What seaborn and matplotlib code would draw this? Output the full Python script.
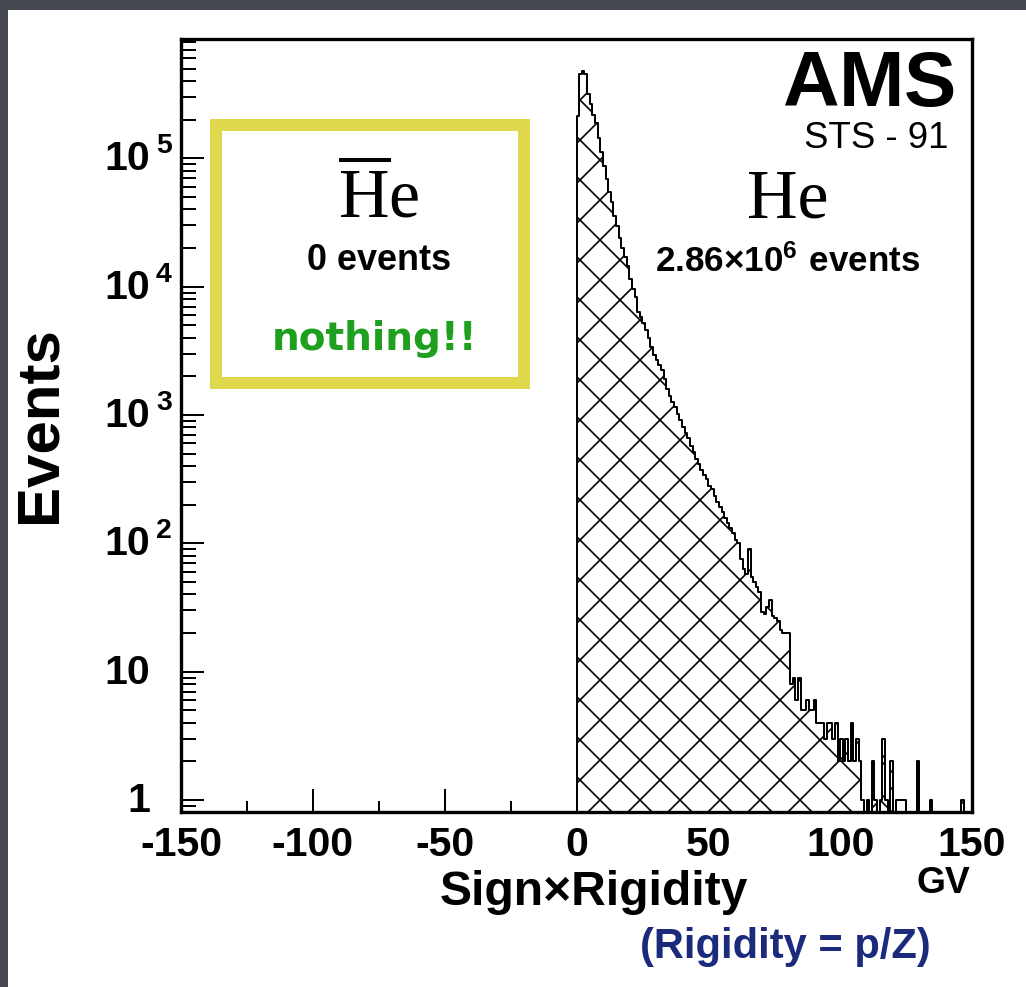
import numpy as np
import pandas as pd
import matplotlib
matplotlib.use("Agg")
import matplotlib.pyplot as plt
import seaborn as sns
from matplotlib import transforms
from matplotlib.patches import Rectangle
from matplotlib.ticker import MultipleLocator, LogLocator, NullFormatter

# ---------------- data ----------------
bin_edges = list(range(0, 148))          # 1 GV bins, 0 .. 147 GV
he_counts = [
    214000, 457000, 479000, 457000, 316000, 263000, 219000, 190000, 145000, 112000,
    87000, 69000, 55000, 45700, 35500, 29500, 24000, 20000, 17000, 14500,
    11500, 9550, 8300, 6300, 5750, 5250, 4570, 3980, 3390, 2950,
    2690, 2450, 2240, 1900, 1580, 1410, 1260, 1150, 1020, 912,
    813, 724, 661, 575, 513, 457, 417, 372, 339, 316,
    282, 263, 234, 209, 191, 174, 158, 145, 132, 120,
    107, 100, 76, 63, 58, 91, 55, 50, 46, 42,
    29, 28, 32, 36, 27, 26, 25, 21, 20, 20,
    20, 8, 9, 6, 9, 5, 5, 6, 5, 5,
    6, 4, 4, 4, 3, 4, 4, 3, 4, 2,
    3, 2, 3, 2, 4, 2, 3, 2, 1, 0,
    1, 0, 2, 1, 0, 1, 3, 1, 0, 2,
    0, 1, 1, 1, 1, 0, 0, 0, 0, 2,
    0, 0, 0, 0, 1, 0, 0, 0, 0, 0,
    0, 0, 0, 0, 0, 0, 1,
]
x_ticks = [-150, -100, -50, 0, 50, 100, 150]
y_tick_values = [1, 10, 100, 1000, 10000, 100000]
y_tick_main = ["1", "10", "10", "10", "10", "10"]
y_tick_sup = ["", "", "2", "3", "4", "5"]

# ---------------- style ----------------
sns.set_theme(style="white")
plt.rcParams["font.family"] = ["Liberation Sans", "DejaVu Sans"]
plt.rcParams["mathtext.fontset"] = "custom"
plt.rcParams["mathtext.rm"] = "Liberation Sans:bold"
plt.rcParams["mathtext.sf"] = "Liberation Serif"
plt.rcParams["hatch.linewidth"] = 0.5

W, H, DPI = 1026, 988, 240
fig = plt.figure(figsize=(W / DPI, H / DPI), dpi=DPI, facecolor="#44474f")

def fx(px):
    return px / W

def fy(py):
    return 1 - py / H

# white slide panel
fig.add_artist(Rectangle((fx(8), 0), 1, fy(11), transform=fig.transFigure,
                         facecolor="white", edgecolor="none", zorder=-1))

ax = fig.add_axes([fx(181), fy(813), fx(972) - fx(181), fy(40) - fy(813)])
ax.set_facecolor("white")

centers = [e + 0.5 for e in bin_edges[:-1]]
df = pd.DataFrame({"rigidity": centers, "events": he_counts})
sns.histplot(data=df, x="rigidity", weights="events", bins=bin_edges,
             element="step", fill=True, color="black", ax=ax)
poly = ax.collections[0]
poly.set_alpha(1)
poly.set_facecolor("white")
poly.set_edgecolor("black")
poly.set_hatch("xx")
poly.set_linewidth(0.6)

ax.set_yscale("log")
ax.set_xlim(-150, 150)
ax.set_ylim(0.807, 8.5e5)
ax.set_xlabel("")
ax.set_ylabel("")

ax.xaxis.set_minor_locator(MultipleLocator(25))
ax.set_xticks(x_ticks)
ax.set_xticklabels([str(v) for v in x_ticks])
ax.yaxis.set_major_locator(LogLocator(base=10, numticks=12))
ax.yaxis.set_minor_locator(LogLocator(base=10, subs=np.arange(2, 10), numticks=12))
ax.yaxis.set_minor_formatter(NullFormatter())

ax.tick_params(axis="both", which="both", direction="in", bottom=True, left=True,
               top=False, right=False, color="black", width=0.6)
ax.tick_params(axis="both", which="major", length=6.8)
ax.tick_params(axis="x", which="minor", length=3.3)
ax.tick_params(axis="y", which="minor", length=4.4)
ax.tick_params(axis="x", labelsize=12.3, pad=3.8, labelcolor="black")
ax.tick_params(axis="y", labelleft=False)
for lab in ax.get_xticklabels():
    lab.set_fontweight("bold")

for s in ax.spines.values():
    s.set_color("black")
    s.set_linewidth(1.0)

# y tick labels in ROOT style (10 ^k)
trans = transforms.blended_transform_factory(fig.transFigure, ax.transData)
sup_trans = transforms.offset_copy(trans, fig=fig, x=0, y=13, units="dots")
for v, m, s in zip(y_tick_values, y_tick_main, y_tick_sup):
    ax.text(fx(150), v, m, transform=trans, ha="right", va="center",
            fontsize=12.3, fontweight="bold", color="black")
    if s:
        ax.text(fx(156), v, s, transform=sup_trans, ha="left", va="center",
                fontsize=8.5, fontweight="bold", color="black")

# axis titles
fig.text(fx(594), fy(905), "Sign\u00d7Rigidity", ha="center", va="baseline",
         fontsize=14.4, fontweight="bold", color="black")
fig.text(fx(970), fy(893), "GV", ha="right", va="baseline",
         fontsize=11.2, fontweight="bold", color="black")
fig.text(fx(785), fy(958), "(Rigidity = p/Z)", ha="center", va="baseline",
         fontsize=12.5, fontweight="bold", color="#1c2a7c")
fig.text(fx(40), fy(425), "Events", ha="center", va="center", rotation=90,
         fontsize=18, fontweight="bold", color="black")

# AMS logo text (mathtext keeps the box tight to the capitals)
fig.text(fx(955), fy(106), r"$\mathrm{AMS}$", ha="right", va="baseline",
         fontsize=23.5, color="black")
fig.text(fx(948), fy(148), "STS - 91", ha="right", va="baseline",
         fontsize=11.0, color="black")

# He side
fig.text(fx(788), fy(217), "He", ha="center", va="baseline",
         fontsize=21, family="Liberation Serif", color="black")
fig.text(fx(788), fy(272), r"$\mathrm{2.86{\times}10^{6}\ events}$", ha="center",
         va="baseline", fontsize=10.5, color="black")

# anti-He box
fig.add_artist(Rectangle((fx(216), fy(384)), fx(524) - fx(216), fy(126) - fy(384),
                         transform=fig.transFigure, fill=False,
                         edgecolor="#e0d84c", linewidth=3.6, zorder=5))
fig.text(fx(379), fy(217), r"$\overline{\mathsf{H}}\mathsf{e}$", ha="center",
         va="baseline", fontsize=21, color="black")
fig.text(fx(379), fy(270), "0 events", ha="center", va="baseline",
         fontsize=10.8, fontweight="bold", color="black")
fig.text(fx(375), fy(350), "nothing!!", ha="center", va="baseline",
         fontsize=11.7, fontweight="bold", family="DejaVu Sans", color="#1ea01e")

fig.savefig("out.png", dpi=DPI, facecolor=fig.get_facecolor())
